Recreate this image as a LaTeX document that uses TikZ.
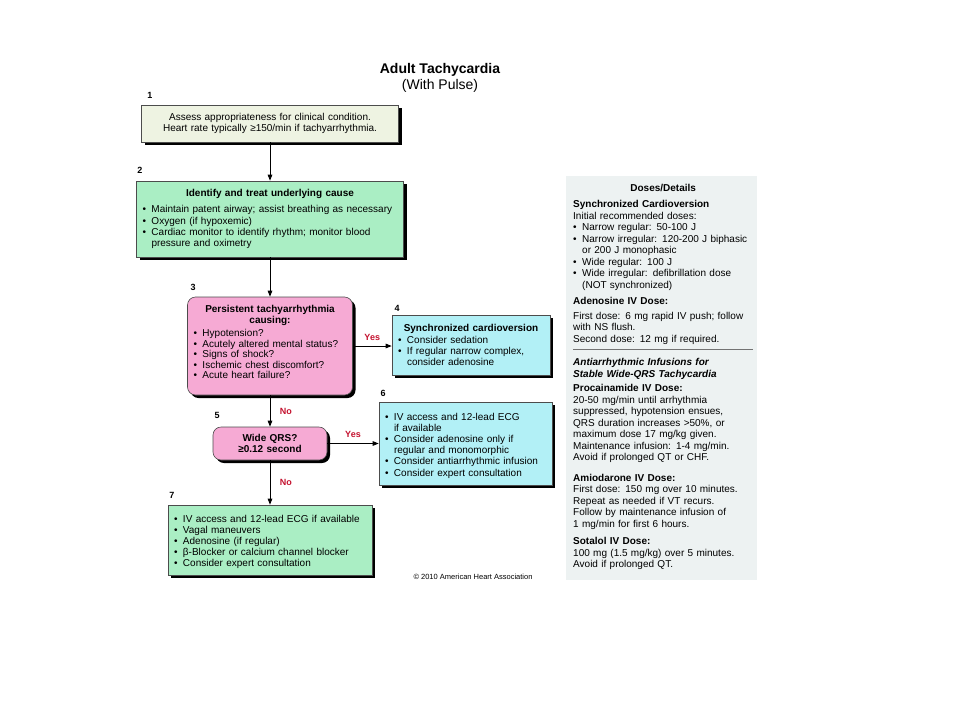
\documentclass[tikz,border=0pt]{standalone}
\usepackage{fontspec}
\setmainfont{Liberation Sans}
\usetikzlibrary{arrows.meta,shadows}
\definecolor{boxbeige}{RGB}{238,243,226}
\definecolor{boxgreen}{RGB}{170,238,196}
\definecolor{boxpink}{RGB}{246,170,212}
\definecolor{boxcyan}{RGB}{178,240,246}
\definecolor{panelgray}{RGB}{237,242,242}
\definecolor{yesno}{RGB}{196,18,47}
\newcommand{\boxfont}{\fontsize{10}{11.2}\selectfont}
\newcommand{\bl}{\par\hangindent=9pt\hangafter=1\noindent\hbox to 9pt{\textbullet\hss}}
\newcommand{\hd}[2][4pt]{{\centering\bfseries #2\par}\vspace{#1}}
\tikzset{
  stepbox/.style={draw=black!70, line width=0.6pt, font=\boxfont, align=left,
    inner xsep=6pt, inner ysep=3pt,
    drop shadow={shadow xshift=3pt, shadow yshift=-3pt, fill=black, opacity=1}},
  stepnum/.style={font=\bfseries\fontsize{9}{9}\selectfont},
  flow/.style={-{Triangle[length=6pt,width=4.5pt]}, line width=0.9pt},
  answer/.style={text=yesno, font=\bfseries\fontsize{9}{9}\selectfont}
}
\begin{document}
\begin{tikzpicture}[x=1pt,y=-1pt]
\useasboundingbox (0,0) rectangle (960,720);
% title
\node[font=\bfseries\fontsize{14}{16}\selectfont] (title) at (440,70) {Adult Tachycardia};
\node[font=\fontsize{14}{16}\selectfont] (subtitle) at (440,86) {(With Pulse)};
% flow chart
\node[stepbox, fill=boxbeige, text width=245pt, minimum height=37pt, align=center] (assess) at (270,123.5)
  {Assess appropriateness for clinical condition.\\Heart rate typically ≥150/min if tachyarrhythmia.};
\node[stepbox, fill=boxgreen, text width=255pt, minimum height=76pt] (cause) at (270,219)
  {\hd[5pt]{Identify and treat underlying cause}
   \bl Maintain patent airway; assist breathing as necessary
   \bl Oxygen (if hypoxemic)
   \bl Cardiac monitor to identify rhythm; monitor blood\newline pressure and oximetry\par};
\node[stepbox, fill=boxpink, rounded corners=8pt, text width=153pt, minimum height=98pt,
  font=\fontsize{10}{10.5}\selectfont] (persist) at (270,346)
  {\hd[3pt]{Persistent tachyarrhythmia\\causing:}
   \bl Hypotension?
   \bl Acutely altered mental status?
   \bl Signs of shock?
   \bl Ischemic chest discomfort?
   \bl Acute heart failure?\par\vspace{8pt}\hrule height 0pt width 0pt};
\node[stepbox, fill=boxcyan, text width=146pt, minimum height=60pt] (cardiov) at (471,345)
  {\hd[0.5pt]{Synchronized cardioversion}
   \bl Consider sedation
   \bl If regular narrow complex,\newline consider adenosine\par};
\node[stepbox, fill=boxpink, rounded corners=8pt, text width=102pt, minimum height=33pt, align=center] (wideqrs) at (270,443.5)
  {\bfseries Wide QRS?\\\bfseries ≥0.12 second};
\node[stepbox, fill=boxcyan, text width=161pt, minimum height=83pt] (wide) at (465.5,443.5)
  {\bl IV access and 12-lead ECG\newline if available
   \bl Consider adenosine only if\newline regular and monomorphic
   \bl Consider antiarrhythmic infusion
   \bl Consider expert consultation\par};
\node[stepbox, fill=boxgreen, text width=192pt, minimum height=70pt] (narrow) at (270,540)
  {\bl IV access and 12-lead ECG if available
   \bl Vagal maneuvers
   \bl Adenosine (if regular)
   \bl β-Blocker or calcium channel blocker
   \bl Consider expert consultation\par};
% step numbers
\node[stepnum] (n1) at (150,95) {1};
\node[stepnum] (n2) at (140,170) {2};
\node[stepnum] (n3) at (193,287) {3};
\node[stepnum] (n4) at (397,308) {4};
\node[stepnum] (n5) at (217,415) {5};
\node[stepnum] (n6) at (383,393) {6};
\node[stepnum] (n7) at (172,495) {7};
% connectors
\draw[flow] (assess.south) -- (cause.north);
\draw[flow] (cause.south) -- (persist.north);
\draw[flow] (persist.east) -- (persist.east -| cardiov.west) node[answer, midway, above=2pt] {Yes};
\draw[flow] (persist.south) -- (wideqrs.north) node[answer, midway, right=6pt] {No};
\draw[flow] (wideqrs.east) -- (wideqrs.east -| wide.west) node[answer, midway, above=2pt] {Yes};
\draw[flow] (wideqrs.south) -- (narrow.north) node[answer, midway, right=6pt] {No};
\node[font=\fontsize{7.5}{8}\selectfont] (copyr) at (473,577) {© 2010 American Heart Association};
% doses panel
\fill[panelgray] (566,176) rectangle (757,580);
\node[anchor=north west, text width=180pt, inner sep=0pt, align=left, font=\fontsize{10}{11.5}\selectfont] (doses) at (573,184)
  {\hd[5pt]{Doses/Details}
   \textbf{Synchronized Cardioversion}\par
   Initial recommended doses:
   \bl Narrow regular: 50-100 J
   \bl Narrow irregular: 120-200 J biphasic\newline or 200 J monophasic
   \bl Wide regular: 100 J
   \bl Wide irregular: defibrillation dose\newline (NOT synchronized)\par
   \vspace{5pt}
   \textbf{Adenosine IV Dose:}\par
   \vspace{3pt}
   First dose: 6 mg rapid IV push; follow\\with NS flush.\par
   Second dose: 12 mg if required.\par
   \vspace{4pt}{\color{black!55}\hrule height 0.8pt}\vspace{9pt}
   {\bfseries\itshape Antiarrhythmic Infusions for\\Stable Wide-QRS Tachycardia\par}
   \vspace{3pt}
   \textbf{Procainamide IV Dose:}\par
   20-50 mg/min until arrhythmia\\suppressed, hypotension ensues,\\QRS duration increases >50\%, or\\maximum dose 17 mg/kg given.\\Maintenance infusion: 1-4 mg/min.\\Avoid if prolonged QT or CHF.\par
   \vspace{9pt}
   \textbf{Amiodarone IV Dose:}\par
   First dose: 150 mg over 10 minutes.\\Repeat as needed if VT recurs.\\Follow by maintenance infusion of\\1 mg/min for first 6 hours.\par
   \vspace{6pt}
   \textbf{Sotalol IV Dose:}\par
   100 mg (1.5 mg/kg) over 5 minutes.\\Avoid if prolonged QT.\par};
\end{tikzpicture}
\end{document}
